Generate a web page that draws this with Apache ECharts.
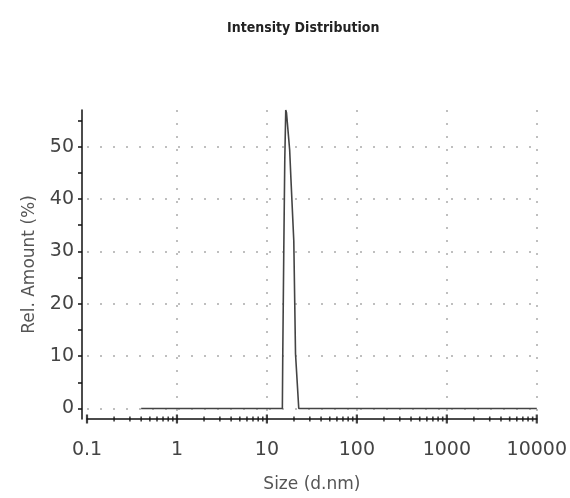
<!DOCTYPE html>
<html>
<head>
<meta charset="utf-8">
<script src="https://cdn.jsdelivr.net/npm/echarts@6/dist/echarts.min.js"></script>
<style>
html,body{margin:0;padding:0;background:#fff;}
#chart{width:570px;height:498px;}
</style>
</head>
<body>
<div id="chart"></div>
<script>
// ---- data ----
const sizes   = [0.4, 14.85, 15.0, 15.4, 15.8, 16.2, 16.5, 17.9, 18.5, 19.9, 20.8, 22.6, 10000];
const amounts = [0,   0,     10,   30,   47.5, 57,   56.5, 49.4, 43.8, 32,   10.4, 0,    0];
const xTickValues = [0.1, 1, 10, 100, 1000, 10000];
const xTickLabels = ['0.1', '1', '10', '100', '1000', '10000'];
const minorMultipliers = [2, 3, 4, 5, 6, 7, 8, 9];
const decades = [0.1, 1, 10, 100, 1000];
const yMin = -2, yMax = 57;

const curve = sizes.map((s, i) => [s, amounts[i]]);
const minorTicks = [];
decades.forEach(d => minorMultipliers.forEach(m => minorTicks.push([+(d * m).toPrecision(3), yMin])));
const majorTicks = xTickValues.map(v => [v, yMin]);

const labelFont = 'DejaVu Sans';
const chart = echarts.init(document.getElementById('chart'));
chart.setOption({
  animation: false,
  backgroundColor: '#fff',
  title: {
    text: 'Intensity Distribution',
    left: 222, top: 16,
    textStyle: { fontFamily: 'DejaVu Sans Condensed', fontWeight: 'bold', fontSize: 14, color: '#222' }
  },
  grid: { left: 87, right: 33, top: 110, bottom: 75, containLabel: false },
  xAxis: {
    type: 'log', logBase: 10, min: 0.1, max: 10000,
    name: 'Size (d.nm)', nameLocation: 'middle', nameGap: 57,
    nameTextStyle: { fontFamily: labelFont, fontSize: 17, color: '#555' },
    axisLine: { onZero: false, lineStyle: { color: '#111', width: 1.5 } },
    axisTick: { show: false },
    axisLabel: {
      fontFamily: labelFont, fontSize: 19, color: '#444', margin: 22,
      formatter: v => { const i = xTickValues.findIndex(t => Math.abs(Math.log10(t) - Math.log10(v)) < 1e-6); return i >= 0 ? xTickLabels[i] : ''; }
    },
    splitLine: { show: true, showMinLine: false, showMaxLine: true, lineStyle: { color: '#aaa', type: [2, 11], width: 1.5 } },
    minorTick: { show: false }
  },
  yAxis: [{
    type: 'value', min: yMin, max: yMax, splitNumber: 12, offset: 5,
    name: 'Rel. Amount (%)', nameLocation: 'middle', nameGap: 44,
    nameTextStyle: { fontFamily: labelFont, fontSize: 17, color: '#555' },
    axisLine: { show: true, onZero: false, lineStyle: { color: '#111', width: 1.5 } },
    axisTick: { show: true, length: 4, lineStyle: { color: '#111', width: 1.5 } },
    axisLabel: {
      fontFamily: labelFont, fontSize: 19, color: '#444', margin: 8,
      showMinLabel: false, showMaxLabel: false,
      formatter: v => (v >= 0 && Math.round(v) % 10 === 0 && v <= 50) ? String(Math.round(v)) : ''
    },
    splitLine: { show: false }
  }, {
    type: 'value', min: yMin, max: yMax, splitNumber: 6, position: 'left',
    axisLine: { show: false }, axisTick: { show: false }, axisLabel: { show: false },
    splitLine: { show: true, showMinLine: false, showMaxLine: false, lineStyle: { color: '#aaa', type: [2, 11], width: 1.5 } }
  }],
  series: [{
    type: 'line', data: curve, yAxisIndex: 0, symbol: 'none', smooth: false,
    lineStyle: { color: '#444', width: 1.6 }, z: 5
  }, {
    type: 'scatter', data: minorTicks, yAxisIndex: 0, symbol: 'rect', symbolSize: [1.6, 5],
    itemStyle: { color: '#111' }, clip: false, silent: true, z: 6
  }, {
    type: 'scatter', data: majorTicks, yAxisIndex: 0, symbol: 'rect', symbolSize: [2.2, 9],
    itemStyle: { color: '#111' }, clip: false, silent: true, z: 6
  }]
});
</script>
</body>
</html>
